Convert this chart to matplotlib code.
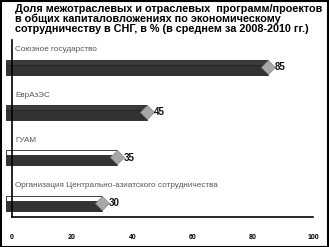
import matplotlib.pyplot as plt
import numpy as np

# data
categories = ['Союзное государство', 'ЕврАзЭС', 'ГУАМ',
              'Организация Центрально-азиатского сотрудничества']
values = np.array([85, 45, 35, 30])
top_colors = ['#3c3c3c', '#3c3c3c', 'white', 'white']
xticks = [0, 20, 40, 60, 80, 100]

title = ('Доля межотраслевых и отраслевых  программ/проектов\n'
         'в общих капиталовложениях по экономическому\n'
         'сотрудничеству в СНГ, в % (в среднем за 2008-2010 гг.)')

plt.rcParams['font.family'] = 'Liberation Sans'

fig = plt.figure(figsize=(3.29, 2.47), dpi=100)
ax = fig.add_axes([0.036, 0.121, 0.915, 0.717])

y = np.arange(len(values))

# front face (dark) and top face of the pseudo-3D bars
ax.barh(y + 0.055, values + 2, left=-2, height=0.22, color='#333333',
        edgecolor='#222222', linewidth=0.6, clip_on=False, zorder=2)
ax.barh(y - 0.11, values + 2, left=-2, height=0.11, color=top_colors,
        edgecolor='#222222', linewidth=0.6, clip_on=False, zorder=2)
# diamond cap at bar end
ax.plot(values, y - 0.01, 'D', color='#a8a8a8', markersize=7,
        markeredgecolor='#888888', markeredgewidth=0.5, zorder=3)

for i, v in enumerate(values):
    ax.text(v + 2.3, i, str(v), fontsize=7, fontweight='bold',
            va='center', ha='left', color='#111111')
    ax.text(1.2, i - 0.38, categories[i], fontsize=5.9, va='center',
            ha='left', color='#555555')

ax.set_xlim(0, 100)
ax.set_ylim(3.31, -0.6)
ax.set_xticks(xticks)
ax.set_xticklabels([str(t) for t in xticks], fontsize=5, fontweight='bold')
ax.tick_params(axis='x', length=0, pad=12)
ax.set_yticks([])
for s in ['top', 'right']:
    ax.spines[s].set_visible(False)
ax.spines['left'].set_linewidth(1.2)
ax.spines['bottom'].set_linewidth(1.2)

fig.text(0.045, 0.985, title, fontsize=7.8, fontweight='bold',
         va='top', ha='left', linespacing=0.98)

# frame around the whole picture
fig.patches.append(plt.Rectangle((0.002, 0.002), 0.995, 0.995,
                                 transform=fig.transFigure, fill=False,
                                 edgecolor='black', linewidth=1.5))

fig.savefig('out.png', dpi=100)
